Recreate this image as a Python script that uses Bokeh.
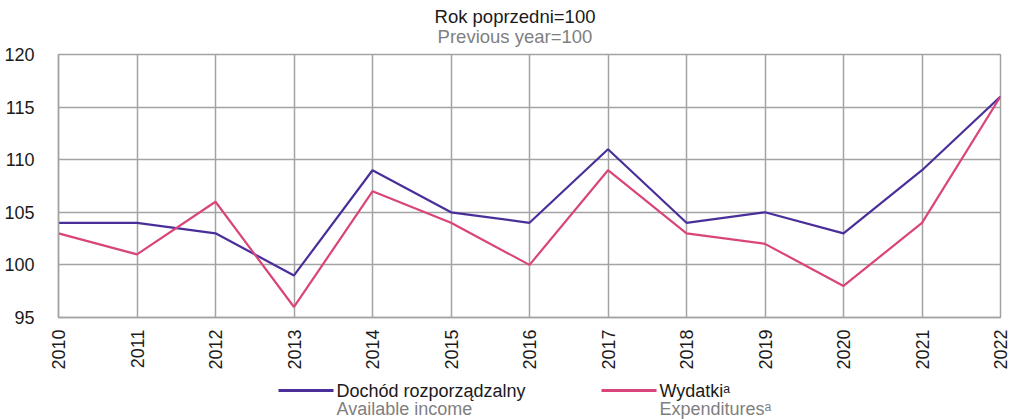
import math
from bokeh.plotting import figure
from bokeh.models import Range1d, FixedTicker, ColumnDataSource, Div
from bokeh.layouts import column
from bokeh.core.properties import value
from bokeh.embed import file_html
from bokeh.resources import INLINE

years = [2010, 2011, 2012, 2013, 2014, 2015, 2016, 2017, 2018, 2019, 2020, 2021, 2022]
income = [104, 104, 103, 99, 109, 105, 104, 111, 104, 105, 103, 109, 116]
expenditures = [103, 101, 106, 96, 107, 104, 100, 109, 103, 102, 98, 104, 116]
y_ticks = [95, 100, 105, 110, 115, 120]

series_names_pl = ["Dochód rozporządzalny", "Wydatkiᵃ"]
series_names_en = ["Available income", "Expendituresᵃ"]
title_pl = "Rok poprzedni=100"
title_en = "Previous year=100"

PURPLE = "#4a2f9a"
PINK = "#d9457a"
GRID = "#a3a3a3"
FONT = "Liberation Sans"
W = 1011
BL, BR = 58, 11
TH = 46  # title block height

title_div = Div(
    text=(f'<div style="box-sizing:border-box;width:{W}px;font-family:\'{FONT}\';font-size:18.5px;'
          f'line-height:20px;text-align:center;padding-top:7px;padding-left:19px;">'
          f'<div style="color:#1a1a1a;">{title_pl}</div>'
          f'<div style="color:#7f7f7f;">{title_en}</div></div>'),
    width=W, height=TH, margin=0)

p = figure(width=W, height=372 - TH, output_backend="svg", toolbar_location=None,
           x_range=Range1d(years[0], years[-1]), y_range=Range1d(y_ticks[0], y_ticks[-1]),
           min_border_left=BL, min_border_right=BR, min_border_top=8, min_border_bottom=55)

p.line(years, income, line_color=PURPLE, line_width=2.2)
p.line(years, expenditures, line_color=PINK, line_width=2.2)

p.xaxis.ticker = FixedTicker(ticks=years)
p.yaxis.ticker = FixedTicker(ticks=y_ticks)
p.xaxis.major_label_orientation = math.pi / 2
for ax in (p.xaxis, p.yaxis):
    ax.major_tick_line_color = None
    ax.minor_tick_line_color = None
    ax.axis_line_color = GRID
    ax.axis_line_width = 1.5
    ax.major_label_text_font = FONT
    ax.major_label_text_font_size = "18px"
    ax.major_label_text_color = "#1a1a1a"
p.xaxis.major_label_standoff = 6
p.yaxis.major_label_standoff = 18

p.xgrid.ticker = FixedTicker(ticks=years)
p.ygrid.ticker = FixedTicker(ticks=y_ticks)
p.grid.grid_line_color = GRID
p.grid.grid_line_width = 1.5
p.outline_line_color = GRID
p.outline_line_width = 1.5
p.background_fill_color = "white"
p.border_fill_color = None

# legend as a small figure below (its frame is aligned with the main frame;
# the x range maps data units to page pixels)
LH = 47
lg = figure(width=W, height=LH, output_backend="svg", toolbar_location=None,
            x_range=Range1d(BL, W - BR), y_range=Range1d(0, LH),
            min_border=0, outline_line_color=None)
lg.axis.visible = False
lg.grid.visible = False

leg_x = [278, 601]
leg_colors = [PURPLE, PINK]
for i in range(2):
    lg.line([leg_x[i], leg_x[i] + 55], [29, 29], line_color=leg_colors[i], line_width=3)
src = ColumnDataSource(dict(x=[leg_x[0] + 58, leg_x[1] + 58], y=[29, 29], t=series_names_pl))
lg.text(x="x", y="y", text="t", source=src, text_font=value(FONT), text_font_size="18px",
        text_baseline="middle", text_color="#1a1a1a")
src2 = ColumnDataSource(dict(x=[leg_x[0] + 58, leg_x[1] + 58], y=[11, 11], t=series_names_en))
lg.text(x="x", y="y", text="t", source=src2, text_font=value(FONT), text_font_size="18px",
        text_baseline="middle", text_color="#7f7f7f")

layout = column(title_div, p, lg, spacing=0)
open("out.html", "w").write(file_html(layout, INLINE))
